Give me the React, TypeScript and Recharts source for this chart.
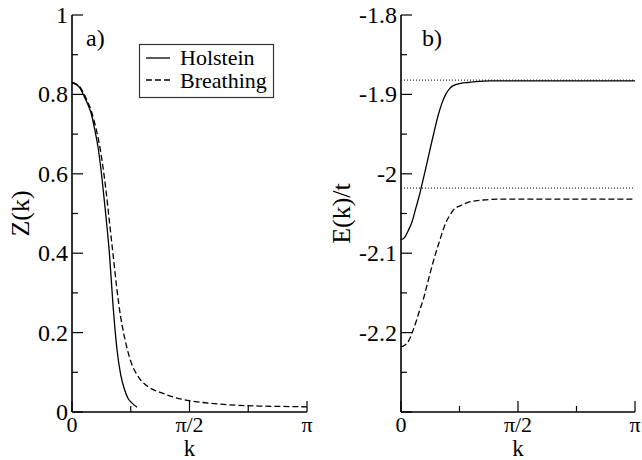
import React from 'react';
import { LineChart, Line, XAxis, YAxis, ReferenceLine, Label } from 'recharts';

const PI = Math.PI;

// ---- Panel a) Z(k) ----
const holsteinZK = [0, 0.1, 0.15, 0.2, 0.26, 0.3, 0.35, 0.4, 0.45, 0.5, 0.55, 0.6, 0.65, 0.7, 0.75, 0.8, 0.87];
const holsteinZ = [0.83, 0.818, 0.8, 0.78, 0.75, 0.715, 0.665, 0.59, 0.5, 0.4, 0.265, 0.16, 0.095, 0.058, 0.034, 0.023, 0.012];

const breathingZK = [0, 0.1, 0.15, 0.2, 0.26, 0.3, 0.35, 0.4, 0.45, 0.5, 0.55, 0.6, 0.65, 0.7, 0.75, 0.8, 0.85, 0.9, 1.0, 1.1, 1.2, 1.35, 1.5, 1.7, 1.9, 2.2, 2.5, 2.8, PI];
const breathingZ = [0.83, 0.82, 0.805, 0.785, 0.757, 0.73, 0.69, 0.635, 0.565, 0.48, 0.395, 0.31, 0.24, 0.19, 0.15, 0.12, 0.1, 0.085, 0.066, 0.055, 0.048, 0.038, 0.031, 0.025, 0.021, 0.017, 0.015, 0.014, 0.013];

// ---- Panel b) E(k)/t ----
const holsteinEK = [0, 0.05, 0.1, 0.15, 0.2, 0.25, 0.3, 0.35, 0.4, 0.45, 0.5, 0.55, 0.6, 0.65, 0.7, 0.8, 0.9, 1.0, 1.2, PI];
const holsteinE = [-2.083, -2.08, -2.071, -2.06, -2.043, -2.026, -2.006, -1.986, -1.965, -1.945, -1.926, -1.911, -1.9, -1.893, -1.889, -1.886, -1.885, -1.884, -1.883, -1.883];

const breathingEK = [0, 0.05, 0.1, 0.15, 0.2, 0.25, 0.3, 0.35, 0.4, 0.45, 0.5, 0.55, 0.6, 0.65, 0.7, 0.8, 0.9, 1.0, 1.1, 1.3, PI];
const breathingE = [-2.218, -2.216, -2.211, -2.2, -2.187, -2.172, -2.158, -2.14, -2.122, -2.105, -2.09, -2.075, -2.062, -2.053, -2.046, -2.04, -2.036, -2.034, -2.033, -2.032, -2.032];

const polaronLevels = [-1.882, -2.018];

// ---- ticks ----
const kTicks = [0, PI / 4, PI / 2, (3 * PI) / 4, PI];
const kTickLabels = ['0', '', 'π/2', '', 'π'];
const zTicks = [0, 0.1, 0.2, 0.3, 0.4, 0.5, 0.6, 0.7, 0.8, 0.9, 1];
const zTickLabels = ['0', '', '0.2', '', '0.4', '', '0.6', '', '0.8', '', '1'];
const eTicks = [-2.3, -2.25, -2.2, -2.15, -2.1, -2.05, -2, -1.95, -1.9, -1.85, -1.8];
const eTickLabels = ['', '', '-2.2', '', '-2.1', '', '-2', '', '-1.9', '', '-1.8'];

const toRows = (ks: number[], vs: number[]) => ks.map((k, i) => ({ k, v: vs[i] }));

const FONT = 'Liberation Serif';
const MAJ = 11;
const MIN = 6;
const TM = 4;

const idxOf = (arr: number[], v: number) => arr.findIndex((a) => Math.abs(a - v) < 1e-9);

type Side = 'left' | 'right' | 'top' | 'bottom';

const makeTick = (side: Side, ticks: number[], labels: string[], majorFlags: boolean[]) => (props: any) => {
  const { x, y, payload } = props;
  const i = idxOf(ticks, payload.value);
  const major = i >= 0 ? majorFlags[i] : false;
  const len = major ? MAJ : MIN;
  const lbl = i >= 0 ? labels[i] : '';
  const st = { stroke: '#000', strokeWidth: 1.2 };
  if (side === 'left') {
    const ax = x + TM;
    return (
      <g>
        <line x1={ax} x2={ax + len} y1={y} y2={y} {...st} />
        {lbl ? (
          <text x={x} y={y + 8} textAnchor="end" fontFamily={FONT} fontSize={24} fill="#000">
            {lbl}
          </text>
        ) : null}
      </g>
    );
  }
  if (side === 'right') {
    return <line x1={x} x2={x - len} y1={y} y2={y} {...st} />;
  }
  if (side === 'top') {
    return <line x1={x} x2={x} y1={y} y2={y + len} {...st} />;
  }
  const ay = y - TM;
  return (
    <g>
      <line x1={x} x2={x} y1={ay} y2={ay - len} {...st} />
      {lbl ? (
        <text x={x} y={ay + 20} textAnchor="middle" fontFamily={FONT} fontSize={22} fill="#000">
          {lbl}
        </text>
      ) : null}
    </g>
  );
};

const kMajor = [true, false, true, false, true];
const zMajor = zTicks.map((_, i) => i % 2 === 0);
const eMajor = eTicks.map((_, i) => i % 2 === 0);

const axisLine = { stroke: '#000', strokeWidth: 1.6 };

const yTitle = (text: string, cx: number) => (props: any) => {
  const vb = props.viewBox || {};
  const cy = vb.y + vb.height / 2;
  return (
    <text
      transform={`translate(${cx},${cy}) rotate(-90)`}
      textAnchor="middle"
      fontFamily={FONT}
      fontSize={26}
      fill="#000"
    >
      {text}
    </text>
  );
};

const xTitle = (text: string) => (props: any) => {
  const vb = props.viewBox || {};
  return (
    <text x={vb.x + vb.width / 2} y={456} textAnchor="middle" fontFamily={FONT} fontSize={23} fill="#000">
      {text}
    </text>
  );
};

interface PanelProps {
  yWidth: number;
  rightMargin: number;
  domain: [number, number];
  yTicks: number[];
  yLabels: string[];
  yMajor: boolean[];
  title: string;
  titleX: number;
  children: React.ReactNode;
}

const W = 321;
const H = 460;

function Panel({ yWidth, rightMargin, domain, yTicks, yLabels, yMajor, title, titleX, children }: PanelProps) {
  return (
    <LineChart width={W} height={H} margin={{ top: 15, right: rightMargin, bottom: 0, left: 0 }}>
      <XAxis
        xAxisId="b"
        dataKey="k"
        type="number"
        domain={[0, PI]}
        ticks={kTicks}
        interval={0}
        allowDataOverflow
        orientation="bottom"
        height={48}
        tickSize={0}
        tickMargin={TM}
        tickLine={false}
        axisLine={axisLine}
        tick={makeTick('bottom', kTicks, kTickLabels, kMajor)}
      >
        <Label content={xTitle('k')} />
      </XAxis>
      <XAxis
        xAxisId="t"
        dataKey="k"
        type="number"
        domain={[0, PI]}
        ticks={kTicks}
        interval={0}
        allowDataOverflow
        orientation="top"
        height={0}
        tickSize={0}
        tickMargin={0}
        tickLine={false}
        axisLine={axisLine}
        tick={makeTick('top', kTicks, kTickLabels, kMajor)}
      />
      <YAxis
        yAxisId="l"
        type="number"
        domain={domain}
        ticks={yTicks}
        interval={0}
        allowDataOverflow
        orientation="left"
        width={yWidth}
        tickSize={0}
        tickMargin={TM}
        tickLine={false}
        axisLine={axisLine}
        tick={makeTick('left', yTicks, yLabels, yMajor)}
      >
        <Label content={yTitle(title, titleX)} />
      </YAxis>
      <YAxis
        yAxisId="r"
        type="number"
        domain={domain}
        ticks={yTicks}
        interval={0}
        allowDataOverflow
        orientation="right"
        width={0}
        tickSize={0}
        tickMargin={0}
        tickLine={false}
        axisLine={axisLine}
        tick={makeTick('right', yTicks, yLabels, yMajor)}
      />
      {children}
    </LineChart>
  );
}

const lineCommon = {
  xAxisId: 'b',
  yAxisId: 'l',
  dataKey: 'v',
  type: 'monotone' as const,
  dot: false,
  activeDot: false,
  stroke: '#000',
  strokeWidth: 1.3,
  isAnimationActive: false,
};

export default function App() {
  return (
    <div style={{ position: 'absolute', left: 0, top: 0, width: 642, height: 460, background: '#fff' }}>
      <div style={{ position: 'absolute', left: 0, top: 0 }}>
        <Panel
          yWidth={72}
          rightMargin={14}
          domain={[0, 1]}
          yTicks={zTicks}
          yLabels={zTickLabels}
          yMajor={zMajor}
          title="Z(k)"
          titleX={29}
        >
          <Line {...lineCommon} data={toRows(holsteinZK, holsteinZ)} name="Holstein" />
          <Line {...lineCommon} data={toRows(breathingZK, breathingZ)} name="Breathing" strokeDasharray="6 3" />
        </Panel>
      </div>
      <div style={{ position: 'absolute', left: 321, top: 0 }}>
        <Panel
          yWidth={80}
          rightMargin={7}
          domain={[-2.3, -1.8]}
          yTicks={eTicks}
          yLabels={eTickLabels}
          yMajor={eMajor}
          title="E(k)/t"
          titleX={29}
        >
          {polaronLevels.map((lv) => (
            <ReferenceLine
              key={lv}
              xAxisId="b"
              yAxisId="l"
              y={lv}
              stroke="#000"
              strokeWidth={1}
              strokeDasharray="1 2"
            />
          ))}
          <Line {...lineCommon} data={toRows(holsteinEK, holsteinE)} name="Holstein" />
          <Line {...lineCommon} data={toRows(breathingEK, breathingE)} name="Breathing" strokeDasharray="6 3" />
        </Panel>
      </div>
      <svg width={642} height={460} style={{ position: 'absolute', left: 0, top: 0, pointerEvents: 'none' }}>
        <text x={86} y={46} fontFamily={FONT} fontSize={24} fill="#000">a)</text>
        <text x={422} y={46} fontFamily={FONT} fontSize={24} fill="#000">b)</text>
        <rect x={139.5} y={44.5} width={134} height={53} fill="#fff" stroke="#333" strokeWidth={1.2} />
        <line x1={146} x2={170} y1={58} y2={58} stroke="#000" strokeWidth={1.3} />
        <line x1={146} x2={170} y1={80} y2={80} stroke="#000" strokeWidth={1.3} strokeDasharray="6 3" />
        <text x={180} y={65} fontFamily={FONT} fontSize={22} fill="#000">Holstein</text>
        <text x={180} y={88} fontFamily={FONT} fontSize={22} fill="#000">Breathing</text>
      </svg>
    </div>
  );
}
